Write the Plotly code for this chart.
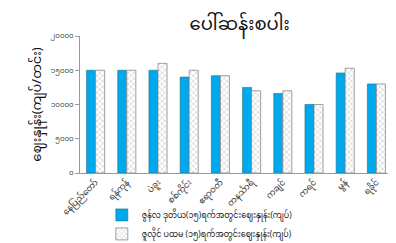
import plotly.graph_objects as go

categories = ["နေပြည်တော်", "ရန်ကုန်", "ပဲခူး", "စစ်ကိုင်း", "ဧရာဝတီ", "တနင်္သာရီ", "ကချင်", "ကရင်", "မွန်", "ရခိုင်"]
june_vals = [15000, 15000, 15000, 14000, 14200, 12500, 11600, 10000, 14600, 13000]
july_vals = [15000, 15000, 16000, 15000, 14200, 12000, 12000, 10000, 15300, 13000]
series_names = ["ဇွန်လ ဒုတိယ(၁၅)ရက်အတွင်းဈေးနှုန်း(ကျပ်)", "ဇူလိုင် ပထမ (၁၅)ရက်အတွင်းဈေးနှုန်း(ကျပ်)"]
ytick_vals = [0, 5000, 10000, 15000, 20000]
ytick_text = ["၀", "၅၀၀၀", "၁၀၀၀၀", "၁၅၀၀၀", "၂၀၀၀၀"]
title = "ပေါ်ဆန်းစပါး"
ytitle = "ဈေးနှုန်း(ကျပ်/တင်း)"

FONT = "Noto Sans, Noto Sans Myanmar, DejaVu Sans, sans-serif"

fig = go.Figure()
fig.add_trace(go.Bar(x=categories, y=june_vals, name=series_names[0],
                     marker=dict(color="#00A8EC", line=dict(color="#1a6f96", width=0.6))))
fig.add_trace(go.Bar(x=categories, y=july_vals, name=series_names[1],
                     marker=dict(color="white", line=dict(color="#8a8a8a", width=0.8),
                                 pattern=dict(shape="x", fgcolor="#9a9a9a", bgcolor="white", size=4, solidity=0.3))))

fig.update_layout(
    width=396, height=243,
    margin=dict(l=72, r=12, t=28, b=78, autoexpand=False),
    paper_bgcolor="white", plot_bgcolor="white",
    font=dict(family=FONT, size=9, color="#333"),
    title=dict(text=title, x=0.585, xanchor="center", y=0.935, yanchor="middle",
               font=dict(size=18, color="#111", family=FONT)),
    barmode="group", bargap=0.42, bargroupgap=0.0,
    showlegend=True,
    legend=dict(orientation="v", x=0.07, y=-0.2, xanchor="left", yanchor="top",
                font=dict(size=8, color="#222"), tracegroupgap=0, itemwidth=30,
                bgcolor="rgba(0,0,0,0)"),
    xaxis=dict(showline=True, linecolor="#999", linewidth=1, tickangle=-45,
               tickfont=dict(size=8.5, color="#333"), ticks="", automargin=False),
    yaxis=dict(range=[0, 20000], tickvals=ytick_vals, ticktext=ytick_text,
               showline=True, linecolor="#999", linewidth=1, ticks="outside", ticklen=4,
               tickcolor="#999", showgrid=False, zeroline=False, automargin=False,
               tickfont=dict(size=7, color="#444"),
               title=dict(text=ytitle, font=dict(size=13, color="#111"), standoff=6)),
)

fig.write_html("out.html")
